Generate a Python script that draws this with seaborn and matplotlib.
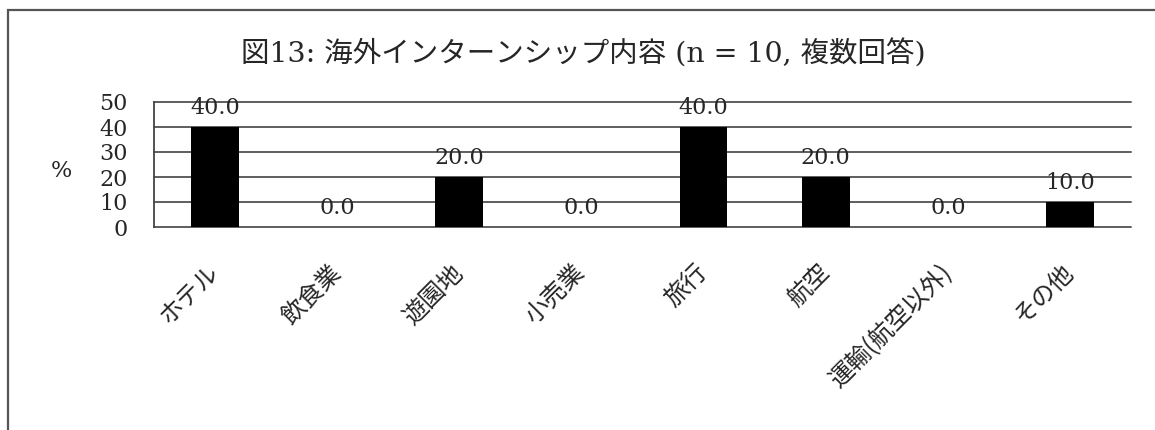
import matplotlib
matplotlib.use('Agg')
import matplotlib.pyplot as plt
from matplotlib.patches import Rectangle
import seaborn as sns

## data ##
categories = ['ホテル', '飲食業', '遊園地', '小売業', '旅行', '航空', '運輸(航空以外)', 'その他']
values = [40.0, 0.0, 20.0, 0.0, 40.0, 20.0, 0.0, 10.0]
yticks = [0, 10, 20, 30, 40, 50]
title = '図13: 海外インターンシップ内容 (n = 10, 複数回答)'
ylabel = '%'

## plotting params ##
sns.set_theme(style='white')
plt.rcParams['font.family'] = ['DejaVu Serif', 'Noto Sans CJK JP']
serif_jp = ['DejaVu Serif', 'Noto Sans CJK JP']
grid_color = '#5e5e5e'

W, H = 1155, 430
fig = plt.figure(figsize=(W / 100, H / 100), dpi=100)
ax = fig.add_axes([154 / W, 1 - 227 / H, (1131 - 154) / W, (227 - 102) / H])

sns.barplot(x=categories, y=values, color='black', width=0.39, saturation=1,
            edgecolor='black', linewidth=0, ax=ax, zorder=3)

ax.set_xlim(-0.5, len(categories) - 0.5)
ax.set_ylim(0, 50)
ax.set_yticks(yticks)
ax.set_yticklabels([str(v) for v in yticks], fontsize=16, family='DejaVu Serif')
ax.tick_params(axis='y', length=0, pad=19)
ax.tick_params(axis='x', length=0, pad=30)
ax.set_xticks(range(len(categories)))
ax.set_xticklabels(categories, rotation=45, ha='right', va='center', rotation_mode='anchor',
                   fontsize=17.5, family=['Noto Sans CJK JP'])
ax.set_xlabel('')
ax.set_ylabel('')

# horizontal grid lines incl. 0 and 50
ax.grid(False)
for v in yticks:
    ax.axhline(v, color=grid_color, linewidth=1.4, zorder=1, clip_on=False)
for side in ['top', 'right', 'bottom']:
    ax.spines[side].set_visible(False)
ax.spines['left'].set_color('#444444')
ax.spines['left'].set_linewidth(1.3)

# value labels
ax.bar_label(ax.containers[0], fmt='%.1f', padding=6, fontsize=16, family='DejaVu Serif', zorder=4)

# title and y unit
fig.text(583 / W, 1 - 54 / H, title, ha='center', va='center', fontsize=20.5, family=serif_jp)
fig.text(61 / W, 1 - 171 / H, ylabel, ha='center', va='center', fontsize=16, family='DejaVu Serif')

# outer frame (left and top edges visible)
fig.patches.append(Rectangle((8 / W, -0.1), 1.2, 1 - 10 / H + 0.1, transform=fig.transFigure,
                             fill=False, edgecolor='#555555', linewidth=1.6))

plt.savefig('out.png', dpi=100)
plt.close()
